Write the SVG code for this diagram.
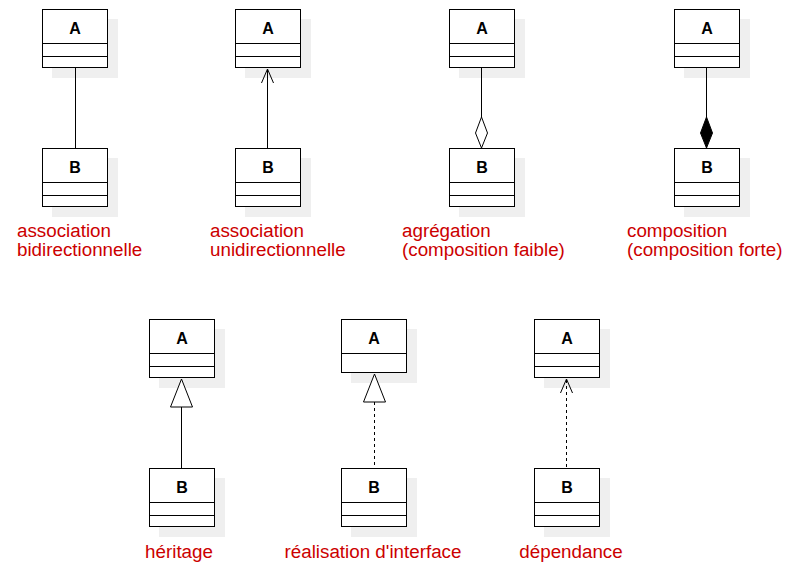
<svg xmlns="http://www.w3.org/2000/svg" width="789" height="562" viewBox="0 0 789 562">
  <style>
    .shadow { fill: #efefef; stroke: none; }
    .box { fill: #ffffff; stroke: #000000; stroke-width: 1; }
    .div { stroke: #000000; stroke-width: 1; fill: none; }
    .name { font-family: "Liberation Sans", Arial, sans-serif; font-size: 16px; font-weight: bold; fill: #000000; text-anchor: middle; }
    .edge { stroke: #000000; stroke-width: 1; fill: none; }
    .hollow { fill: #ffffff; }
    .solid { fill: #000000; }
    .dash { stroke-dasharray: 3 3; }
    .caption { font-family: "Liberation Sans", Arial, sans-serif; font-size: 18.8px; fill: #cc0000; }
    .mid { text-anchor: middle; }
  </style>
  <defs>
    <!-- class with a name compartment and two empty compartments -->
    <g id="cls">
      <rect class="shadow" x="10" y="10" width="66" height="59"/>
      <rect class="box" x="0.5" y="0.5" width="65" height="58"/>
      <line class="div" x1="0.5" y1="34.5" x2="65.5" y2="34.5"/>
      <line class="div" x1="0.5" y1="47.5" x2="65.5" y2="47.5"/>
    </g>
    <!-- interface: name compartment and one empty compartment -->
    <g id="iface">
      <rect class="shadow" x="10" y="10" width="66" height="54"/>
      <rect class="box" x="0.5" y="0.5" width="65" height="53"/>
      <line class="div" x1="0.5" y1="34.5" x2="65.5" y2="34.5"/>
    </g>
  </defs>

  <!-- first row -->
  <g id="assoc-bi-A"><use href="#cls" x="42" y="9"/><text class="name" x="75" y="34">A</text></g>
  <g id="assoc-bi-B"><use href="#cls" x="42" y="148"/><text class="name" x="75" y="173">B</text></g>
  <g id="assoc-uni-A"><use href="#cls" x="235" y="9"/><text class="name" x="268" y="34">A</text></g>
  <g id="assoc-uni-B"><use href="#cls" x="235" y="148"/><text class="name" x="268" y="173">B</text></g>
  <g id="aggr-A"><use href="#cls" x="449" y="9"/><text class="name" x="482" y="34">A</text></g>
  <g id="aggr-B"><use href="#cls" x="449" y="148"/><text class="name" x="482" y="173">B</text></g>
  <g id="comp-A"><use href="#cls" x="674" y="9"/><text class="name" x="707" y="34">A</text></g>
  <g id="comp-B"><use href="#cls" x="674" y="148"/><text class="name" x="707" y="173">B</text></g>

  <!-- second row -->
  <g id="inh-A"><use href="#cls" x="149" y="319"/><text class="name" x="182" y="344">A</text></g>
  <g id="inh-B"><use href="#cls" x="149" y="468"/><text class="name" x="182" y="493">B</text></g>
  <g id="real-A"><use href="#iface" x="341" y="319"/><text class="name" x="374" y="344">A</text></g>
  <g id="real-B"><use href="#cls" x="341" y="468"/><text class="name" x="374" y="493">B</text></g>
  <g id="dep-A"><use href="#cls" x="534" y="319"/><text class="name" x="567" y="344">A</text></g>
  <g id="dep-B"><use href="#cls" x="534" y="468"/><text class="name" x="567" y="493">B</text></g>

  <!-- connectors, drawn over the box shadows -->
  <g id="connectors">
    <!-- bidirectional association -->
    <line class="edge" x1="75.5" y1="68" x2="75.5" y2="148"/>
    <!-- unidirectional association -->
    <line class="edge" x1="267.5" y1="69" x2="267.5" y2="148"/>
    <polyline class="edge" points="261.5,83 267.5,69 273.5,83"/>
    <!-- aggregation -->
    <line class="edge" x1="481.5" y1="68" x2="481.5" y2="117"/>
    <polygon class="edge hollow" points="481.5,117 487.5,133 481.5,148 475.5,133"/>
    <!-- composition -->
    <line class="edge" x1="706.5" y1="68" x2="706.5" y2="117"/>
    <polygon class="edge solid" points="706.5,117 712.5,133 706.5,148 700.5,133"/>
    <!-- inheritance -->
    <line class="edge" x1="181.5" y1="407" x2="181.5" y2="468"/>
    <polygon class="edge hollow" points="181.5,379 192.5,407 170.5,407"/>
    <!-- interface realisation -->
    <line class="edge dash" x1="374.5" y1="402" x2="374.5" y2="468"/>
    <polygon class="edge hollow" points="374.5,374 385.5,402 363.5,402"/>
    <!-- dependency -->
    <line class="edge dash" x1="566.5" y1="380" x2="566.5" y2="468"/>
    <polyline class="edge" points="560.5,393 566.5,379 572.5,393"/>
  </g>

  <!-- captions -->
  <g id="captions">
    <text class="caption" x="17" y="237">association</text>
    <text class="caption" x="17" y="256">bidirectionnelle</text>
    <text class="caption" x="210" y="237">association</text>
    <text class="caption" x="210" y="256">unidirectionnelle</text>
    <text class="caption" x="402" y="237">agrégation</text>
    <text class="caption" x="402" y="256">(composition faible)</text>
    <text class="caption" x="627" y="237">composition</text>
    <text class="caption" x="627" y="256">(composition forte)</text>
    <text class="caption mid" x="179" y="558">héritage</text>
    <text class="caption mid" x="373" y="558">réalisation d'interface</text>
    <text class="caption mid" x="571" y="558">dépendance</text>
  </g>
</svg>
